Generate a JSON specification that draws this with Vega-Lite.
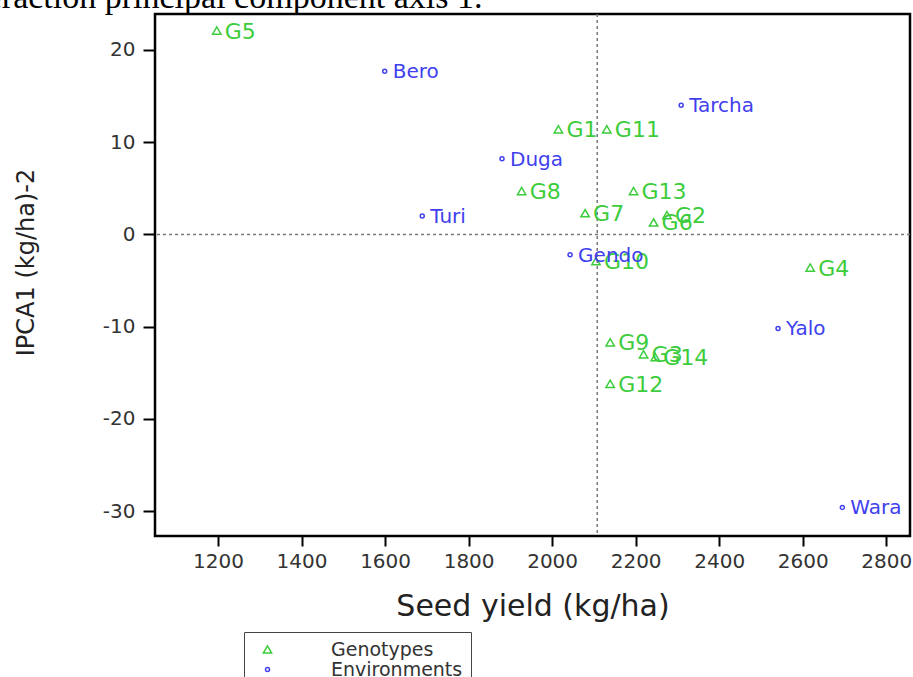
{
  "$schema": "https://vega.github.io/schema/vega-lite/v6.json",
  "width": 755,
  "height": 522,
  "autosize": {"type": "none"},
  "padding": {"left": 155, "top": 14, "right": 3, "bottom": 141},
  "background": "white",
  "title": {
    "text": "Interaction principal component axis 1.",
    "font": "Liberation Serif",
    "fontSize": 34,
    "fontWeight": "normal",
    "color": "black",
    "anchor": "start",
    "frame": "group",
    "orient": "top",
    "dx": -206,
    "offset": -29,
    "baseline": "alphabetic"
  },
  "config": {
    "font": "DejaVu Sans",
    "view": {"stroke": "black", "strokeWidth": 2.5}
  },
  "datasets": {
    "pts": [
      {"name": "G1", "type": "Genotypes", "yield": 2015, "ipca": 11.4},
      {"name": "G2", "type": "Genotypes", "yield": 2275, "ipca": 2.1},
      {"name": "G3", "type": "Genotypes", "yield": 2219, "ipca": -13.0},
      {"name": "G4", "type": "Genotypes", "yield": 2618, "ipca": -3.6},
      {"name": "G5", "type": "Genotypes", "yield": 1197, "ipca": 22.1},
      {"name": "G6", "type": "Genotypes", "yield": 2243, "ipca": 1.3},
      {"name": "G7", "type": "Genotypes", "yield": 2079, "ipca": 2.3},
      {"name": "G8", "type": "Genotypes", "yield": 1927, "ipca": 4.7},
      {"name": "G9", "type": "Genotypes", "yield": 2139, "ipca": -11.7},
      {"name": "G10", "type": "Genotypes", "yield": 2105, "ipca": -2.9},
      {"name": "G11", "type": "Genotypes", "yield": 2131, "ipca": 11.4},
      {"name": "G12", "type": "Genotypes", "yield": 2139, "ipca": -16.2},
      {"name": "G13", "type": "Genotypes", "yield": 2195, "ipca": 4.7},
      {"name": "G14", "type": "Genotypes", "yield": 2247, "ipca": -13.3},
      {"name": "Bero", "type": "Environments", "yield": 1599, "ipca": 17.7},
      {"name": "Tarcha", "type": "Environments", "yield": 2309, "ipca": 14.0},
      {"name": "Duga", "type": "Environments", "yield": 1880, "ipca": 8.2},
      {"name": "Turi", "type": "Environments", "yield": 1689, "ipca": 2.0},
      {"name": "Gendo", "type": "Environments", "yield": 2043, "ipca": -2.2},
      {"name": "Yalo", "type": "Environments", "yield": 2541, "ipca": -10.2},
      {"name": "Wara", "type": "Environments", "yield": 2695, "ipca": -29.6}
    ],
    "refx": [{"yield": 2108}],
    "refy": [{"ipca": 0}]
  },
  "layer": [
    {
      "data": {"name": "refx"},
      "mark": {"type": "rule", "strokeDash": [3, 3], "color": "#777777", "strokeWidth": 1.5},
      "encoding": {
        "x": {"field": "yield", "type": "quantitative",
          "scale": {"domain": [1049, 2857], "nice": false, "zero": false},
          "axis": {"title": "Seed yield (kg/ha)", "values": [1200, 1400, 1600, 1800, 2000, 2200, 2400, 2600, 2800], "labelExpr": "'' + datum.value", "grid": false, "domain": false, "tickSize": 10, "tickWidth": 2, "tickColor": "black", "labelFontSize": 20, "labelColor": "#333333", "labelPadding": 5, "titleFontSize": 30, "titleFontWeight": "normal", "titleColor": "#222222", "titleBaseline": "alphabetic", "titleY": 79}}
      }
    },
    {
      "data": {"name": "refy"},
      "mark": {"type": "rule", "strokeDash": [3, 3], "color": "#777777", "strokeWidth": 1.5},
      "encoding": {
        "y": {"field": "ipca", "type": "quantitative",
          "scale": {"domain": [-32.7, 23.9], "nice": false, "zero": false},
          "axis": {"title": "IPCA1 (kg/ha)-2", "values": [-30, -20, -10, 0, 10, 20], "labelExpr": "'' + datum.value", "grid": false, "domain": false, "tickSize": 12, "tickWidth": 2, "tickColor": "black", "labelFontSize": 20, "labelColor": "#333333", "labelPadding": 8, "titleFontSize": 24, "titleFontWeight": "normal", "titleColor": "#222222", "titleAngle": -90, "titleBaseline": "alphabetic", "titleX": -122, "titleY": 248}}
      }
    },
    {
      "data": {"name": "pts"},
      "mark": {"type": "point", "filled": false, "strokeWidth": 1.5, "opacity": 1},
      "encoding": {
        "x": {"field": "yield", "type": "quantitative",
          "scale": {"domain": [1049, 2857], "nice": false, "zero": false},
          "axis": {"title": "Seed yield (kg/ha)", "values": [1200, 1400, 1600, 1800, 2000, 2200, 2400, 2600, 2800], "labelExpr": "'' + datum.value", "grid": false, "domain": false, "tickSize": 10, "tickWidth": 2, "tickColor": "black", "labelFontSize": 20, "labelColor": "#333333", "labelPadding": 5, "titleFontSize": 30, "titleFontWeight": "normal", "titleColor": "#222222", "titleBaseline": "alphabetic", "titleY": 79}},
        "y": {"field": "ipca", "type": "quantitative",
          "scale": {"domain": [-32.7, 23.9], "nice": false, "zero": false},
          "axis": {"title": "IPCA1 (kg/ha)-2", "values": [-30, -20, -10, 0, 10, 20], "labelExpr": "'' + datum.value", "grid": false, "domain": false, "tickSize": 12, "tickWidth": 2, "tickColor": "black", "labelFontSize": 20, "labelColor": "#333333", "labelPadding": 8, "titleFontSize": 24, "titleFontWeight": "normal", "titleColor": "#222222", "titleAngle": -90, "titleBaseline": "alphabetic", "titleX": -122, "titleY": 248}},
        "color": {"field": "type", "type": "nominal",
          "scale": {"domain": ["Genotypes", "Environments"], "range": ["#3ccc3c", "#4040ee"]},
          "legend": {"title": null, "orient": "none", "legendX": 89, "legendY": 618, "strokeColor": "#444444", "fillColor": "white", "padding": 8, "labelFontSize": 19, "labelColor": "#333333", "labelOffset": 54, "symbolOffset": 6, "rowPadding": 0, "symbolStrokeWidth": 1.5}},
        "shape": {"field": "type", "type": "nominal",
          "scale": {"domain": ["Genotypes", "Environments"], "range": ["triangle-up", "circle"]},
          "legend": {"title": null, "orient": "none", "legendX": 89, "legendY": 618, "strokeColor": "#444444", "fillColor": "white", "padding": 8, "labelFontSize": 19, "labelColor": "#333333", "labelOffset": 54, "symbolOffset": 6, "rowPadding": 0, "symbolStrokeWidth": 1.5}},
        "size": {"field": "type", "type": "nominal",
          "scale": {"domain": ["Genotypes", "Environments"], "range": [70, 16]},
          "legend": {"title": null, "orient": "none", "legendX": 89, "legendY": 618, "strokeColor": "#444444", "fillColor": "white", "padding": 8, "labelFontSize": 19, "labelColor": "#333333", "labelOffset": 54, "symbolOffset": 6, "rowPadding": 0, "symbolStrokeWidth": 1.5}}
      }
    },
    {
      "data": {"name": "pts"},
      "transform": [{"filter": "datum.type === 'Genotypes'"}],
      "mark": {"type": "text", "align": "left", "baseline": "middle", "dx": 8, "dy": 1, "fontSize": 22, "color": "#3ccc3c"},
      "encoding": {
        "x": {"field": "yield", "type": "quantitative", "scale": {"domain": [1049, 2857], "nice": false, "zero": false}},
        "y": {"field": "ipca", "type": "quantitative", "scale": {"domain": [-32.7, 23.9], "nice": false, "zero": false}},
        "text": {"field": "name", "type": "nominal"}
      }
    },
    {
      "data": {"name": "pts"},
      "transform": [{"filter": "datum.type === 'Environments'"}],
      "mark": {"type": "text", "align": "left", "baseline": "middle", "dx": 8, "dy": 1, "fontSize": 20, "color": "#4040ee"},
      "encoding": {
        "x": {"field": "yield", "type": "quantitative", "scale": {"domain": [1049, 2857], "nice": false, "zero": false}},
        "y": {"field": "ipca", "type": "quantitative", "scale": {"domain": [-32.7, 23.9], "nice": false, "zero": false}},
        "text": {"field": "name", "type": "nominal"}
      }
    }
  ]
}
